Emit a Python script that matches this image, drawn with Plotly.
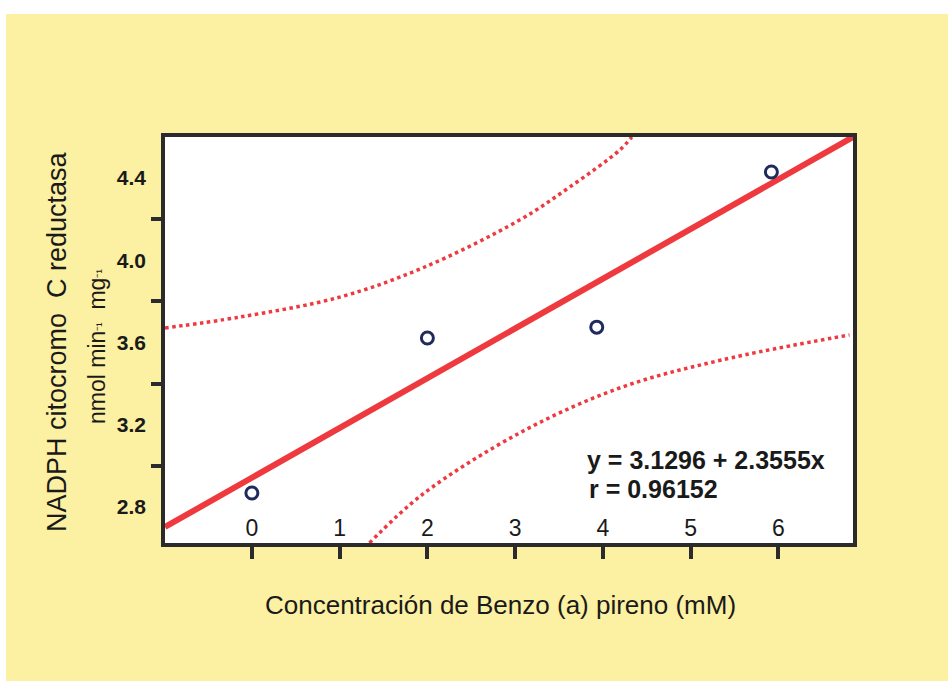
import plotly.graph_objects as go

# Measured activity vs benzo(a)pyrene concentration
conc = [0.0, 2.0, 3.93, 5.92]
activity = [2.868, 3.622, 3.675, 4.43]

# Fitted regression line (end points across the axis span)
fit_x = [-0.99, 6.85]
fit_y = [2.703, 4.600]

# Confidence band, upper branch
upper_x = [-0.99, -0.14, 1.0, 1.94, 3.05, 3.62, 4.19, 4.33]
upper_y = [3.671, 3.724, 3.821, 3.962, 4.196, 4.356, 4.536, 4.60]

# Confidence band, lower branch
lower_x = [1.34, 1.94, 3.05, 4.19, 5.35, 6.81]
lower_y = [2.625, 2.86, 3.16, 3.379, 3.515, 3.637]

x_ticks = [0, 1, 2, 3, 4, 5, 6]
y_tick_marks = [2.6, 3.0, 3.4, 3.8, 4.2]
y_tick_labels = [2.8, 3.2, 3.6, 4.0, 4.4]

equation = "y = 3.1296 + 2.3555x"
corr = "r = 0.96152"

X_RANGE = [-0.99, 6.85]
Y_RANGE = [2.625, 4.60]

YELLOW = "#FCF0A2"
RED = "#EE3A3F"
NAVY = "#1E2B5C"
AXIS = "#2B2B2B"
INK = "#1a1a1a"
FONT = "Liberation Sans, Arial, sans-serif"

fig = go.Figure()

fig.add_trace(go.Scatter(x=upper_x, y=upper_y, mode="lines",
                         line=dict(color=RED, width=3.5, dash="dot", shape="spline"),
                         hoverinfo="skip", showlegend=False))
fig.add_trace(go.Scatter(x=lower_x, y=lower_y, mode="lines",
                         line=dict(color=RED, width=3.5, dash="dot", shape="spline"),
                         hoverinfo="skip", showlegend=False))
fig.add_trace(go.Scatter(x=fit_x, y=fit_y, mode="lines",
                         line=dict(color=RED, width=6),
                         showlegend=False))
fig.add_trace(go.Scatter(x=conc, y=activity, mode="markers",
                         marker=dict(symbol="circle-open", size=12, color=NAVY,
                                     line=dict(width=3, color=NAVY)),
                         showlegend=False))
# invisible trace carrying the labelled y axis
fig.add_trace(go.Scatter(x=[None], y=[None], yaxis="y2", showlegend=False,
                         hoverinfo="skip"))

sup = "<span style='font-size:13px'>\u207b\u00b9</span>"

fig.update_layout(
    width=948, height=681,
    margin=dict(l=165, r=95, t=137, b=138),
    paper_bgcolor=YELLOW,
    plot_bgcolor="white",
    font=dict(family=FONT, color=INK),
    xaxis=dict(range=X_RANGE, tickvals=x_ticks, ticks="outside", ticklen=12,
               tickwidth=4, tickcolor=AXIS, showline=True, linewidth=4,
               linecolor=AXIS, mirror=True, showgrid=False, zeroline=False,
               ticklabelposition="inside", ticklabelstandoff=4,
               tickfont=dict(size=23, family=FONT, color=INK)),
    yaxis=dict(range=Y_RANGE, tickvals=y_tick_marks, showticklabels=False,
               ticks="outside", ticklen=10, tickwidth=4, tickcolor=AXIS,
               showline=True, linewidth=4, linecolor=AXIS, mirror=True,
               showgrid=False, zeroline=False),
    yaxis2=dict(range=Y_RANGE, overlaying="y", side="left",
                tickvals=y_tick_labels, ticktext=[f"{v:.1f}" for v in y_tick_labels],
                ticks="", showline=False, showgrid=False, zeroline=False,
                ticklabelstandoff=18,
                tickfont=dict(size=21, family=FONT, color=INK, weight="bold")),
    shapes=[
        # unprinted margin strips along the top and left edges
        dict(type="rect", xref="paper", yref="paper",
             x0=-0.3, x1=1.2, y0=(543 - 14) / 406, y1=(543 + 5) / 406 + 0.1,
             fillcolor="white", line=dict(width=0), layer="below"),
        dict(type="rect", xref="paper", yref="paper",
             x0=(0 - 165) / 688 - 0.01, x1=(6 - 165) / 688,
             y0=-0.4, y1=1.4,
             fillcolor="white", line=dict(width=0), layer="below"),
    ],
    annotations=[
        dict(text="Concentración de Benzo (a) pireno (mM)", xref="paper", yref="paper",
             x=(500 - 165) / 688, y=(543 - 605) / 406, showarrow=False,
             xanchor="center", yanchor="middle",
             font=dict(size=26, family=FONT, color=INK)),
        dict(text="NADPH citocromo  C reductasa", xref="paper", yref="paper",
             x=(57 - 165) / 688, y=(543 - 342) / 406, showarrow=False, textangle=-90,
             xanchor="center", yanchor="middle",
             font=dict(size=27, family=FONT, color=INK)),
        dict(text=f"nmol min{sup}  mg{sup}",
             xref="paper", yref="paper",
             x=(97 - 165) / 688, y=(543 - 347) / 406, showarrow=False, textangle=-90,
             xanchor="center", yanchor="middle",
             font=dict(size=23, family=FONT, color=INK)),
        dict(text=equation, xref="paper", yref="paper",
             x=(585 - 165) / 688, y=(543 - 460) / 406, showarrow=False,
             xanchor="left", yanchor="middle",
             font=dict(size=25, family=FONT, color=INK, weight="bold")),
        dict(text=corr, xref="paper", yref="paper",
             x=(587 - 165) / 688, y=(543 - 489) / 406, showarrow=False,
             xanchor="left", yanchor="middle",
             font=dict(size=25, family=FONT, color=INK, weight="bold")),
    ],
)

fig.write_html("out.html")
